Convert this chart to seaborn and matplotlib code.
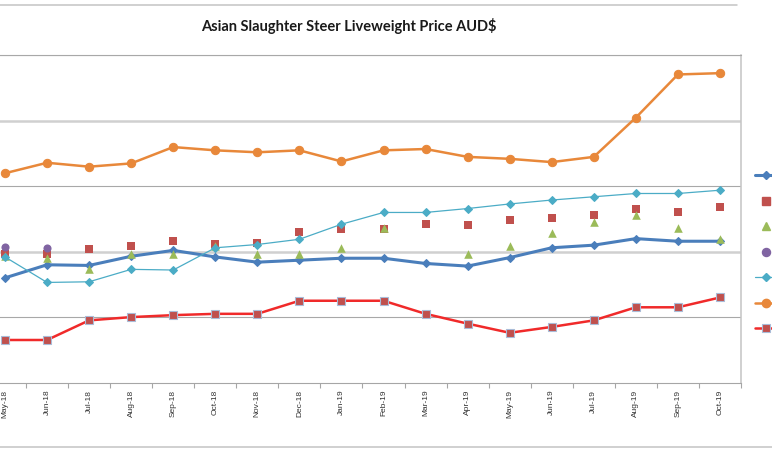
import numpy as np
import pandas as pd
import matplotlib.pyplot as plt
import seaborn as sns
from matplotlib.lines import Line2D

# Meses do eixo x
meses = ['May-18', 'Jun-18', 'Jul-18', 'Aug-18', 'Sep-18', 'Oct-18', 'Nov-18', 'Dec-18',
         'Jan-19', 'Feb-19', 'Mar-19', 'Apr-19', 'May-19', 'Jun-19', 'Jul-19', 'Aug-19',
         'Sep-19', 'Oct-19']

# Séries (AUD$)
azul_escuro = [3.60, 3.80, 3.79, 3.93, 4.02, 3.92, 3.84, 3.87, 3.90, 3.90, 3.82, 3.78,
               3.91, 4.06, 4.10, 4.20, 4.16, 4.16]
quadrados = [3.96, 3.97, 4.04, 4.08, 4.16, 4.12, 4.13, 4.30, 4.35, 4.34, 4.43, 4.41,
             4.48, 4.51, 4.56, 4.65, 4.61, 4.68]
triangulos = [3.93, 3.90, 3.73, 3.97, 3.97, 4.08, 3.96, 3.96, 4.06, 4.37, np.nan, 3.97,
              4.08, 4.29, 4.45, 4.56, 4.37, 4.19]
circulos = [4.07, 4.06, np.nan, np.nan, np.nan, np.nan, np.nan, np.nan, np.nan, np.nan,
            np.nan, np.nan, np.nan, np.nan, np.nan, np.nan, np.nan, np.nan]
azul_claro = [3.92, 3.53, 3.54, 3.73, 3.72, 4.06, 4.11, 4.19, 4.42, 4.60, 4.60, 4.66,
              4.73, 4.79, 4.84, 4.89, 4.89, 4.94]
laranja = [5.20, 5.36, 5.30, 5.35, 5.60, 5.55, 5.52, 5.55, 5.38, 5.55, 5.57, 5.45,
           5.42, 5.37, 5.45, 6.05, 6.71, 6.73]
vermelho = [2.65, 2.65, 2.95, 3.00, 3.03, 3.05, 3.05, 3.25, 3.25, 3.25, 3.05, 2.90,
            2.76, 2.85, 2.95, 3.15, 3.15, 3.30]

df = pd.DataFrame({'mes': meses, 'azul_escuro': azul_escuro, 'quadrados': quadrados,
                   'triangulos': triangulos, 'circulos': circulos, 'azul_claro': azul_claro,
                   'laranja': laranja, 'vermelho': vermelho})
df['pos'] = np.arange(len(df))

sns.set_style('white')
plt.rcParams['font.family'] = ['Liberation Sans', 'DejaVu Sans']

fig = plt.figure(figsize=(7.72, 4.49), dpi=100)
ax = fig.add_axes([-0.02076, 0.1481, 0.9806, 0.7283])

# Cores estilo Excel
c_azul = '#4A7EBB'
c_verm = '#C0504D'
c_verde = '#9BBB59'
c_roxo = '#8064A2'
c_ciano = '#4BACC6'
c_lar = '#E8883A'
c_linha = '#F02A2A'

sns.lineplot(data=df, x='pos', y='azul_escuro', color=c_azul, lw=2.2, marker='D',
             markersize=4.5, markeredgecolor=c_azul, ax=ax, zorder=3)
sns.scatterplot(data=df, x='pos', y='quadrados', color=c_verm, marker='s', s=34,
                linewidth=0, ax=ax, zorder=4)
sns.scatterplot(data=df, x='pos', y='triangulos', color=c_verde, marker='^', s=38,
                linewidth=0, ax=ax, zorder=5)
sns.scatterplot(data=df, x='pos', y='circulos', color=c_roxo, marker='o', s=34,
                linewidth=0, ax=ax, zorder=6)
sns.lineplot(data=df, x='pos', y='azul_claro', color=c_ciano, lw=0.9, marker='D',
             markersize=4.5, markeredgecolor=c_ciano, ax=ax, zorder=7)
sns.lineplot(data=df, x='pos', y='laranja', color=c_lar, lw=1.8, marker='o',
             markersize=6, markeredgecolor=c_lar, ax=ax, zorder=8)
sns.lineplot(data=df, x='pos', y='vermelho', color=c_linha, lw=1.8, marker='s',
             markersize=5.8, markerfacecolor=c_verm, markeredgecolor='#A9BCD8',
             markeredgewidth=0.8, ax=ax, zorder=9)

# Eixos
ax.set_xlim(-0.5, len(meses) - 0.5)
ax.set_ylim(2, 7)
ax.set_yticks([3, 4, 5, 6, 7])
ax.set_yticklabels([])
ax.tick_params(axis='y', length=0)
ax.set_xticks(df['pos'])
ax.set_xticklabels(meses, rotation=90, fontsize=6.0, color='#333333')
ax.set_xticks(np.arange(-0.5, len(meses), 1), minor=True)
ax.tick_params(axis='x', which='major', length=0, pad=5.2)
ax.tick_params(axis='x', which='minor', bottom=True, length=3.6, width=0.8,
               color='#A6A6A6', direction='out')
ax.set_xlabel('')
ax.set_ylabel('')

ax.yaxis.grid(True)
for linha, val in zip(ax.get_ygridlines(), [3, 4, 5, 6, 7]):
    if val in (4, 6):
        linha.set_color('#D0D0D0')
        linha.set_linewidth(1.8)
    else:
        linha.set_color('#A8A8A8')
        linha.set_linewidth(0.8)
ax.set_axisbelow(True)

ax.spines['left'].set_visible(False)
ax.spines['top'].set_color('#A8A8A8')
ax.spines['top'].set_linewidth(0.8)
ax.spines['bottom'].set_color('#A6A6A6')
ax.spines['bottom'].set_linewidth(0.8)
ax.spines['right'].set_color('#C4C4C4')
ax.spines['right'].set_linewidth(1.1)

# Título
fig.text(0.452, 0.942, 'Asian Slaughter Steer Liveweight Price AUD$', ha='center',
         va='center', fontsize=10.5, fontweight='bold', family=['Lato', 'DejaVu Sans'],
         color='#1A1A1A')

# Bordas do gráfico
fig.add_artist(Line2D([0, 737 / 772], [1 - 5 / 449] * 2, transform=fig.transFigure,
                      color='#C4C4C4', lw=1.1))
fig.add_artist(Line2D([0, 1], [1 - 447 / 449] * 2, transform=fig.transFigure,
                      color='#C4C4C4', lw=1.1))

# Legenda (texto cortado na imagem original)
handles = [
    Line2D([], [], color=c_azul, lw=2.2, marker='D', markersize=4.5, markeredgecolor=c_azul),
    Line2D([], [], color=c_verm, lw=0, marker='s', markersize=5.8),
    Line2D([], [], color=c_verde, lw=0, marker='^', markersize=6),
    Line2D([], [], color=c_roxo, lw=0, marker='o', markersize=5.8),
    Line2D([], [], color=c_ciano, lw=0.9, marker='D', markersize=4.5, markeredgecolor=c_ciano),
    Line2D([], [], color=c_lar, lw=1.8, marker='o', markersize=6, markeredgecolor=c_lar),
    Line2D([], [], color=c_linha, lw=1.8, marker='s', markersize=5.8, markerfacecolor=c_verm,
           markeredgecolor='#A9BCD8', markeredgewidth=0.8),
]
fig.legend(handles, [''] * len(handles), loc='upper left',
           bbox_to_anchor=(755 / 772, 1 - 171 / 449), frameon=False, borderpad=0,
           borderaxespad=0, handlelength=1.9, handletextpad=0, labelspacing=1.4,
           fontsize=8)

plt.savefig('out.png', dpi=100)
